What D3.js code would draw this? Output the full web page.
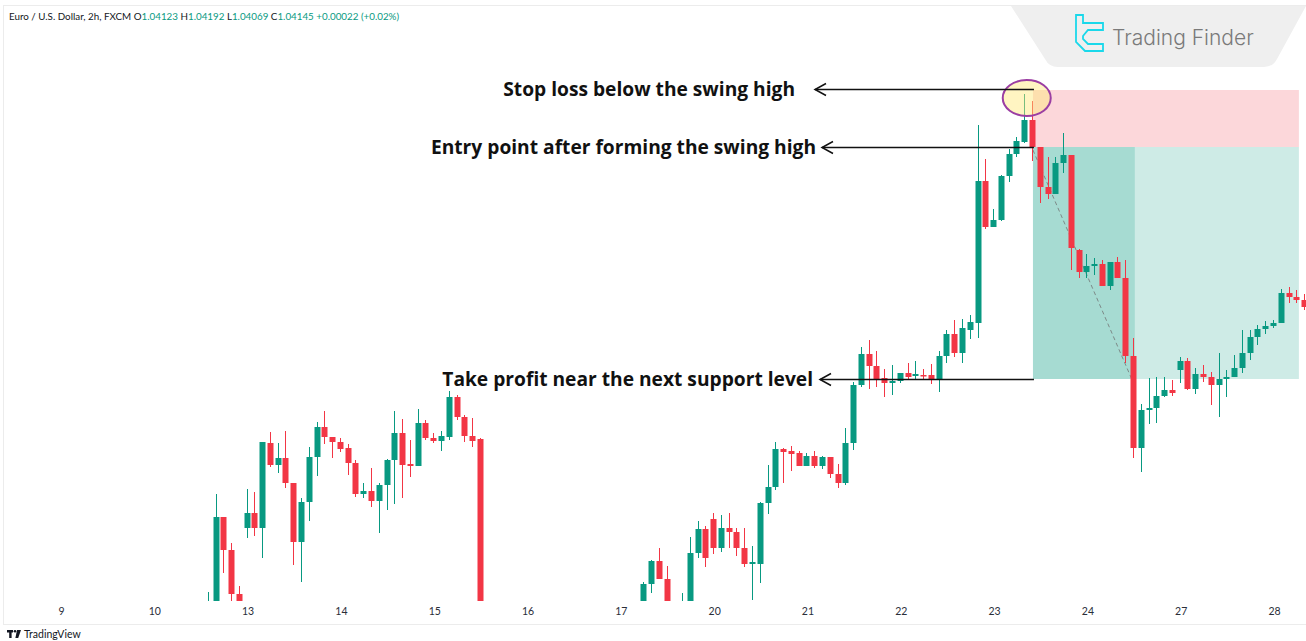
<!DOCTYPE html>
<html>
<head>
<meta charset="utf-8">
<script src="https://cdn.jsdelivr.net/npm/d3@7"></script>
<style>
  body { margin: 0; background: #fff; }
  svg { display: block; }
</style>
</head>
<body>
<div id="chart"></div>
<script>
// EUR/USD 2h candles, bar 0 = first bar of the 9th, 12 bars per day
const bars = d3.range(19, 55).concat(d3.range(75, 79), d3.range(80, 161));

const open = [1.0085, 1.0102, 1.0193, 1.0160, 1.0116, 1.0182, 1.0197, 1.0182, 1.0267, 1.0245,
  1.0252, 1.0227, 1.0168, 1.0208, 1.0253, 1.0283, 1.0273, 1.0268, 1.0262, 1.0247,
  1.0216, 1.0219, 1.0209, 1.0225, 1.0250, 1.0277, 1.0246, 1.0244, 1.0287, 1.0272,
  1.0269, 1.0273, 1.0313, 1.0293, 1.0274, 1.0271,
  1.0104, 1.0126, 1.0149, 1.0131,
  1.0090, 1.0104, 1.0157, 1.0181, 1.0191, 1.0162, 1.0182, 1.0178, 1.0162, 1.0146,
  1.0146, 1.0207, 1.0223, 1.0261, 1.0259, 1.0257, 1.0244, 1.0254, 1.0244, 1.0253,
  1.0236, 1.0227, 1.0267, 1.0325, 1.0356, 1.0344, 1.0332, 1.0327, 1.0329, 1.0337,
  1.0334, 1.0335, 1.0335, 1.0331, 1.0354, 1.0376, 1.0357, 1.0380, 1.0387, 1.0529,
  1.0483, 1.0490, 1.0534, 1.0556, 1.0568, 1.0590, 1.0563, 1.0523, 1.0516, 1.0547,
  1.0555, 1.0460, 1.0438, 1.0444, 1.0446, 1.0424, 1.0448, 1.0432, 1.0354, 1.0262,
  1.0300, 1.0302, 1.0314, 1.0320, 1.0340, 1.0349, 1.0321, 1.0336, 1.0333, 1.0325,
  1.0331, 1.0333, 1.0342, 1.0357, 1.0373, 1.0381, 1.0384, 1.0387, 1.0417, 1.0413,
  1.0410];
const high = [1.0118, 1.0216, 1.0193, 1.0167, 1.0124, 1.0221, 1.0218, 1.0268, 1.0278, 1.0267,
  1.0279, 1.0227, 1.0212, 1.0263, 1.0288, 1.0299, 1.0273, 1.0272, 1.0266, 1.0250,
  1.0227, 1.0242, 1.0227, 1.0251, 1.0299, 1.0291, 1.0270, 1.0301, 1.0290, 1.0277,
  1.0279, 1.0319, 1.0315, 1.0295, 1.0292, 1.0272,
  1.0128, 1.0150, 1.0162, 1.0144,
  1.0117, 1.0173, 1.0189, 1.0184, 1.0197, 1.0195, 1.0197, 1.0182, 1.0182, 1.0164,
  1.0208, 1.0245, 1.0268, 1.0262, 1.0264, 1.0259, 1.0257, 1.0259, 1.0254, 1.0253,
  1.0246, 1.0282, 1.0328, 1.0363, 1.0370, 1.0359, 1.0341, 1.0345, 1.0337, 1.0347,
  1.0349, 1.0341, 1.0346, 1.0359, 1.0380, 1.0390, 1.0391, 1.0395, 1.0585, 1.0551,
  1.0501, 1.0535, 1.0561, 1.0573, 1.0616, 1.0609, 1.0563, 1.0553, 1.0553, 1.0577,
  1.0555, 1.0461, 1.0456, 1.0452, 1.0450, 1.0448, 1.0453, 1.0450, 1.0372, 1.0306,
  1.0332, 1.0333, 1.0333, 1.0330, 1.0353, 1.0352, 1.0342, 1.0345, 1.0338, 1.0357,
  1.0340, 1.0355, 1.0380, 1.0380, 1.0385, 1.0389, 1.0390, 1.0421, 1.0423, 1.0420,
  1.0416];
const low = [1.0075, 1.0096, 1.0137, 1.0106, 1.0098, 1.0172, 1.0174, 1.0152, 1.0243, 1.0237,
  1.0222, 1.0145, 1.0128, 1.0189, 1.0234, 1.0266, 1.0252, 1.0258, 1.0235, 1.0213,
  1.0212, 1.0203, 1.0177, 1.0200, 1.0206, 1.0212, 1.0233, 1.0244, 1.0270, 1.0267,
  1.0259, 1.0270, 1.0290, 1.0268, 1.0263, 1.0085,
  1.0100, 1.0117, 1.0131, 1.0100,
  1.0085, 1.0100, 1.0152, 1.0143, 1.0156, 1.0158, 1.0162, 1.0154, 1.0143, 1.0110,
  1.0127, 1.0196, 1.0220, 1.0227, 1.0239, 1.0244, 1.0244, 1.0242, 1.0241, 1.0232,
  1.0222, 1.0225, 1.0260, 1.0323, 1.0321, 1.0323, 1.0313, 1.0315, 1.0327, 1.0330,
  1.0330, 1.0331, 1.0326, 1.0318, 1.0347, 1.0353, 1.0347, 1.0371, 1.0372, 1.0481,
  1.0483, 1.0489, 1.0528, 1.0553, 1.0567, 1.0549, 1.0507, 1.0511, 1.0516, 1.0537,
  1.0440, 1.0432, 1.0432, 1.0435, 1.0424, 1.0420, 1.0432, 1.0347, 1.0252, 1.0238,
  1.0286, 1.0287, 1.0313, 1.0314, 1.0327, 1.0320, 1.0316, 1.0328, 1.0305, 1.0293,
  1.0313, 1.0333, 1.0337, 1.0350, 1.0365, 1.0376, 1.0382, 1.0387, 1.0407, 1.0407,
  1.0400];
const close = [1.0105, 1.0193, 1.0160, 1.0116, 1.0102, 1.0197, 1.0182, 1.0268, 1.0245, 1.0252,
  1.0227, 1.0168, 1.0208, 1.0253, 1.0283, 1.0273, 1.0268, 1.0261, 1.0247, 1.0216,
  1.0219, 1.0209, 1.0225, 1.0250, 1.0277, 1.0245, 1.0244, 1.0287, 1.0272, 1.0269,
  1.0274, 1.0313, 1.0293, 1.0274, 1.0269, 1.0095,
  1.0126, 1.0149, 1.0131, 1.0104,
  1.0105, 1.0157, 1.0181, 1.0152, 1.0162, 1.0182, 1.0178, 1.0162, 1.0146, 1.0148,
  1.0207, 1.0223, 1.0261, 1.0258, 1.0256, 1.0244, 1.0254, 1.0244, 1.0253, 1.0236,
  1.0227, 1.0267, 1.0325, 1.0356, 1.0344, 1.0331, 1.0327, 1.0329, 1.0337, 1.0333,
  1.0336, 1.0334, 1.0331, 1.0354, 1.0376, 1.0357, 1.0382, 1.0388, 1.0529, 1.0483,
  1.0490, 1.0534, 1.0556, 1.0569, 1.0590, 1.0563, 1.0523, 1.0516, 1.0547, 1.0555,
  1.0462, 1.0438, 1.0444, 1.0446, 1.0424, 1.0448, 1.0432, 1.0354, 1.0262, 1.0300,
  1.0302, 1.0314, 1.0320, 1.0317, 1.0349, 1.0321, 1.0336, 1.0333, 1.0325, 1.0331,
  1.0333, 1.0342, 1.0357, 1.0373, 1.0381, 1.0384, 1.0387, 1.0417, 1.0413, 1.0410,
  1.0403];

// time axis
const dayLabels = ["9", "10", "13", "14", "15", "16", "17", "20", "21", "22", "23", "24", "27", "28"];
const dayStartBars = [0, 12, 24, 36, 48, 60, 72, 84, 96, 108, 120, 132, 144, 156];

// short position tool
const stopPrice = 1.0620;
const entryPrice = 1.0563;
const targetPrice = 1.0331;
const tradeStartBar = 125;
const targetHitBar = 138.1;
const tradeEndBar = 159.2;
const pathBars = [125, 137.7];
const pathPrices = [1.0560, 1.0331];

// swing high marker
const swingBar = 124.2;
const swingPrice = 1.0612;

const notes = ["Stop loss below the swing high", "Entry point after forming the swing high", "Take profit near the next support level"];
const notePrices = [1.0621, entryPrice, targetPrice];

const header = [
  {t: "Euro / U.S. Dollar, 2h, FXCM ", c: "#131722"},
  {t: "O", c: "#131722"}, {t: "1.04123 ", c: "#089981"},
  {t: "H", c: "#131722"}, {t: "1.04192 ", c: "#089981"},
  {t: "L", c: "#131722"}, {t: "1.04069 ", c: "#089981"},
  {t: "C", c: "#131722"}, {t: "1.04145 ", c: "#089981"},
  {t: "+0.00022 (+0.02%)", c: "#089981"}
];

const width = 1306, height = 641;
const up = "#089981", down = "#f23645";

const svg = d3.select("#chart").append("svg")
    .attr("width", width)
    .attr("height", height)
    .style("font-family", "Lato, 'Open Sans', sans-serif");

svg.append("rect").attr("width", width).attr("height", height).attr("fill", "#fff");

// chart frame
svg.append("rect")
    .attr("x", 3.5).attr("y", 5.5)
    .attr("width", width).attr("height", 619)
    .attr("fill", "none")
    .attr("stroke", "#ececec");

let x = d3.scaleLinear().domain([0, 156]).range([61, 1274]);
let y = d3.scaleLinear().domain([1.0110, 1.0710]).range([600, 0]);

svg.append("clipPath").attr("id", "pane")
    .append("rect").attr("x", 4).attr("y", 6).attr("width", width - 4).attr("height", 595);

let pane = svg.append("g").attr("clip-path", "url(#pane)");

// reward / risk zones
pane.append("rect")
    .attr("x", x(tradeStartBar)).attr("y", y(stopPrice))
    .attr("width", x(tradeEndBar) - x(tradeStartBar))
    .attr("height", y(entryPrice) - y(stopPrice))
    .attr("fill", down).attr("fill-opacity", 0.2);

pane.append("rect")
    .attr("x", x(tradeStartBar)).attr("y", y(entryPrice))
    .attr("width", x(tradeEndBar) - x(tradeStartBar))
    .attr("height", y(targetPrice) - y(entryPrice))
    .attr("fill", up).attr("fill-opacity", 0.2);

pane.append("rect")
    .attr("x", x(tradeStartBar)).attr("y", y(entryPrice))
    .attr("width", x(targetHitBar) - x(tradeStartBar))
    .attr("height", y(targetPrice) - y(entryPrice))
    .attr("fill", up).attr("fill-opacity", 0.2);

pane.append("line")
    .attr("x1", x(pathBars[0])).attr("y1", y(pathPrices[0]))
    .attr("x2", x(pathBars[1])).attr("y2", y(pathPrices[1]))
    .attr("stroke", "#7d8a88").attr("stroke-width", 1)
    .attr("stroke-dasharray", "4,3");

// candles
let candles = bars.map((b, i) => ({bar: b, o: open[i], h: high[i], l: low[i], c: close[i]}));

let candle = pane.selectAll(".candle")
    .data(candles)
    .enter()
    .append("g")
    .attr("class", "candle")
    .attr("fill", d => d.c >= d.o ? up : down);

candle.append("rect")
    .attr("x", d => Math.round(x(d.bar)) - 1)
    .attr("width", 1)
    .attr("y", d => y(d.h))
    .attr("height", d => y(d.l) - y(d.h));

candle.append("rect")
    .attr("x", d => Math.round(x(d.bar)) - 3.5)
    .attr("width", 6)
    .attr("y", d => y(Math.max(d.o, d.c)))
    .attr("height", d => Math.max(1.5, Math.abs(y(d.o) - y(d.c))));

// swing high marker
pane.append("ellipse")
    .attr("cx", x(swingBar)).attr("cy", y(swingPrice))
    .attr("rx", 24).attr("ry", 18)
    .attr("fill", "rgb(255, 232, 120)").attr("fill-opacity", 0.45)
    .attr("stroke", "#9b3ea3").attr("stroke-width", 2);

// arrows + notes
const noteRight = [795, 816, 813];
const arrowTip = [815, 822, 820];

notes.forEach((n, i) => {
    let ay = Math.round(y(notePrices[i])) + 0.5;
    svg.append("line")
        .attr("x1", arrowTip[i]).attr("y1", ay)
        .attr("x2", x(tradeStartBar) + 1).attr("y2", ay)
        .attr("stroke", "#111").attr("stroke-width", 1.5);
    svg.append("path")
        .attr("d", `M${arrowTip[i] + 11},${ay - 6} L${arrowTip[i]},${ay} L${arrowTip[i] + 11},${ay + 6}`)
        .attr("fill", "none").attr("stroke", "#111").attr("stroke-width", 1.5);
    svg.append("text")
        .attr("x", noteRight[i]).attr("y", ay - 1)
        .attr("text-anchor", "end")
        .attr("dominant-baseline", "central")
        .attr("font-size", 19.2).attr("font-weight", 700)
        .attr("fill", "#111")
        .style("font-family", "'Open Sans', sans-serif")
        .text(n);
});

// time axis
let axis = svg.append("g")
    .attr("transform", "translate(0,605)")
    .call(d3.axisBottom(x).tickValues(dayStartBars).tickSize(0).tickFormat((d, i) => dayLabels[i]));
axis.select(".domain").remove();
axis.selectAll("text")
    .attr("fill", "#2a2e39").attr("font-size", 10.5)
    .style("font-family", "Lato, sans-serif");

// legend line
let head = svg.append("text")
    .attr("x", 9).attr("y", 20)
    .attr("font-size", 9.8);
head.selectAll("tspan")
    .data(header)
    .enter()
    .append("tspan")
    .attr("fill", d => d.c)
    .style("white-space", "pre")
    .text(d => d.t);

// Trading Finder badge
svg.append("path")
    .attr("d", "M1011,6 H1306 L1277,59 Q1273,67 1264,67 H1058 Q1049,67 1045,59 Z")
    .attr("fill", "#efefef");
svg.append("path")
    .attr("transform", "translate(1076,15)")
    .attr("d", "M0,0 H7 V8 H27 V15 H12 L7,21 V24 L12,29 H27 V36 H9 L0,27 Z")
    .attr("fill", "none").attr("stroke", "#1ad8ea").attr("stroke-width", 1.8);
svg.append("text")
    .attr("x", 1112).attr("y", 45)
    .attr("font-size", 21).attr("font-weight", 300)
    .attr("fill", "#7a7a7a")
    .style("font-family", "Inter, Roboto, sans-serif")
    .text("Trading Finder");

// TradingView attribution
let tv = svg.append("g").attr("fill", "#131722");
tv.append("path").attr("d", "M7,630 H13 V632.5 H11.6 V638 H9.2 V632.5 H7 Z");
tv.append("circle").attr("cx", 15).attr("cy", 631.3).attr("r", 1.3);
tv.append("path").attr("d", "M17,630 H21 L18.2,638 H15.4 Z");
tv.append("text")
    .attr("x", 24).attr("y", 638)
    .attr("font-size", 10.5)
    .text("TradingView");
</script>
</body>
</html>
